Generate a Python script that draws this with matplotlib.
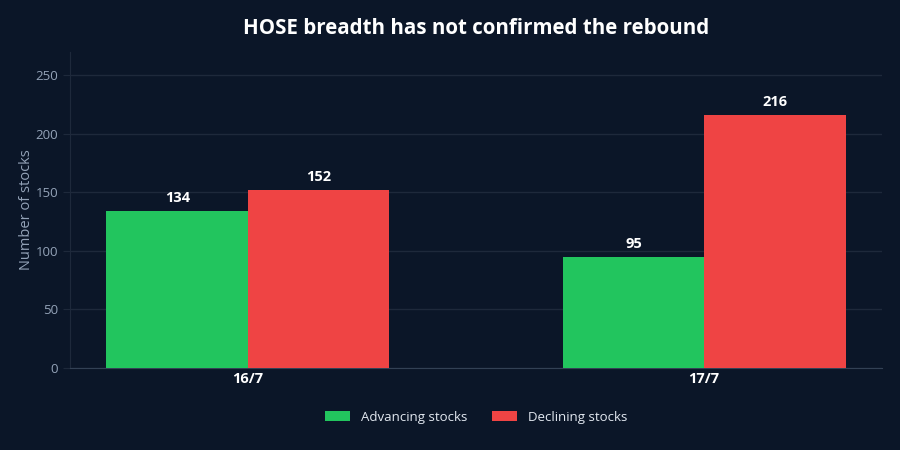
import numpy as np
import matplotlib
matplotlib.use('Agg')
import matplotlib.pyplot as plt

plt.rcParams['font.family'] = ['Open Sans', 'Noto Sans', 'DejaVu Sans']

# data
dates = ['16/7', '17/7']
advancing = [134, 95]
declining = [152, 216]
series_names = ['Advancing stocks', 'Declining stocks']
yticks = [0, 50, 100, 150, 200, 250]

bg = '#0b1628'
green = '#22c55e'
red = '#ef4444'
grid_c = '#1e293b'
tick_c = '#94a3b8'

fig = plt.figure(figsize=(9, 4.5), dpi=100, facecolor=bg)
ax = fig.add_axes([70/900, 1-368/450, 812/900, 316/450], facecolor=bg)

x = np.arange(len(dates))
w = 0.31
b1 = ax.bar(x - w/2, advancing, w, color=green, label=series_names[0], zorder=3)
b2 = ax.bar(x + w/2, declining, w, color=red, label=series_names[1], zorder=3)

for bars in (b1, b2):
    for r in bars:
        ax.text(r.get_x() + r.get_width()/2, r.get_height() + 5, str(int(r.get_height())),
                ha='center', va='bottom', color='white', fontsize=10.5, fontweight='bold')

ax.set_xlim(-0.39, 1.39)
ax.set_ylim(0, 270)
ax.set_yticks(yticks)
ax.set_xticks(x)
ax.set_xticklabels(dates, color='white', fontsize=10.5, fontweight='bold')
ax.tick_params(axis='y', colors=tick_c, labelsize=9.5, length=5, color=grid_c)
ax.tick_params(axis='x', length=0, pad=3)
ax.grid(axis='y', color=grid_c, linewidth=1, zorder=0)
for s in ['top', 'right']:
    ax.spines[s].set_visible(False)
ax.spines['left'].set_color(grid_c)
ax.spines['bottom'].set_color('#334155')

ax.set_ylabel('Number of stocks', color=tick_c, fontsize=10.5, labelpad=1)
fig.text(476/900, 1-28/450, 'HOSE breadth has not confirmed the rebound', color='white',
         fontsize=14.8, fontweight='bold', ha='center', va='center')

leg = fig.legend(loc='center', bbox_to_anchor=(476/900, 1-417/450), ncol=2, frameon=False,
                 fontsize=9.5, labelcolor='#e2e8f0', handlelength=1.9, handleheight=0.8,
                 handletextpad=0.8, columnspacing=1.9)

fig.savefig('out.png', dpi=100, facecolor=bg)
